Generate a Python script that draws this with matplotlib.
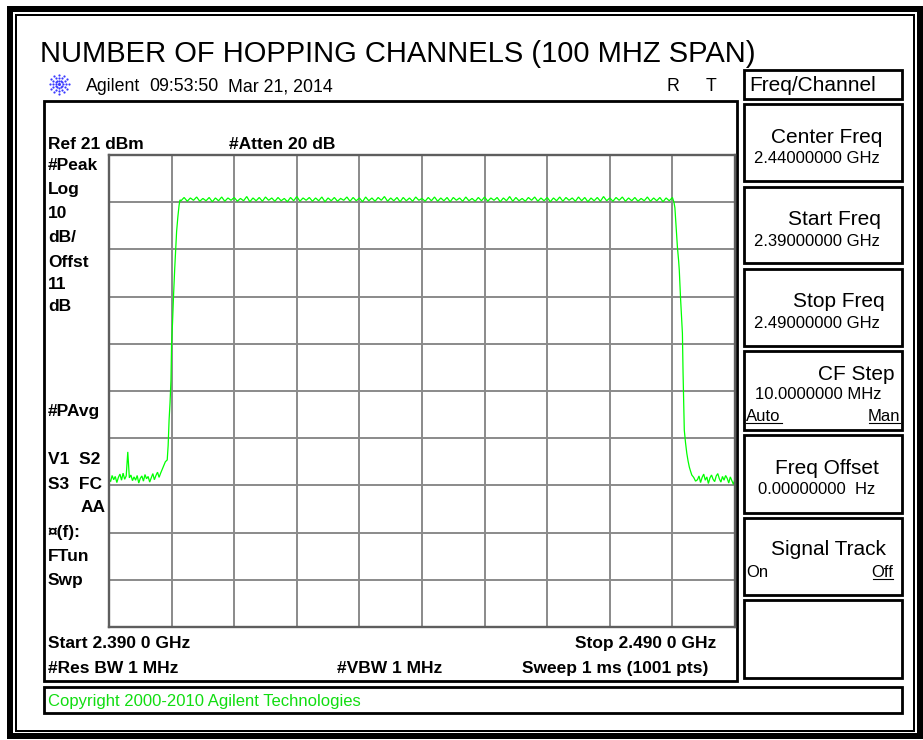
import numpy as np
import matplotlib
matplotlib.use('Agg')
import matplotlib.pyplot as plt
from matplotlib.patches import Rectangle

plt.rcParams['font.family'] = ['Liberation Sans', 'DejaVu Sans']

#=================== trace data (MHz, dBm) ===================
ref_level = 21
db_per_div = 10
start_mhz = 2390.0
stop_mhz = 2490.0

noise_left_f = np.arange(2390.0, 2398.51, 0.25)
noise_left_db = [-47.6, -48.2, -46.9, -47.8, -47.1, -48.4, -47.3, -46.6, -47.9, -46.4,
                 -47.7, -47.0, -41.9, -47.4, -46.8, -48.0, -47.2, -47.9, -46.9, -48.5,
                 -47.5, -47.0, -48.1, -46.7, -47.6, -47.1, -48.3, -47.4, -46.5, -47.8,
                 -46.9, -46.2, -47.3, -46.4, -45.6]

rise_f = [2398.75, 2399.0, 2399.3, 2399.45, 2399.6, 2399.75, 2399.9, 2400.0,
          2400.15, 2400.3, 2400.5, 2400.65, 2400.8, 2401.0, 2401.2, 2401.35]
rise_db = [-44.8, -44.0, -43.6, -40.5, -35.1, -31.5, -26.7, -18.8,
           -14.5, -9.1, -3.0, 0.9, 4.8, 7.9, 10.4, 11.5]

plateau_f = np.arange(2401.5, 2480.01, 0.5)
plateau_db = [11.3, 12.0, 11.2, 11.9, 11.4, 12.1, 11.2, 11.8, 11.3, 12.0,
              11.1, 11.9, 11.3, 12.1, 11.2, 11.9, 11.4, 12.0, 11.2, 11.8,
              11.3, 12.2, 11.1, 11.9, 11.3, 12.0, 11.2, 12.1, 11.4, 11.9,
              11.2, 12.0, 11.3, 11.8, 11.1, 12.0, 11.3, 12.2, 11.2, 11.9,
              11.4, 12.0, 11.2, 11.9, 11.3, 12.1, 11.1, 11.9, 11.3, 12.0,
              11.2, 11.8, 11.4, 12.1, 11.2, 12.0, 11.3, 11.9, 11.1, 12.1,
              11.3, 11.9, 11.2, 12.0, 11.4, 12.2, 11.2, 11.9, 11.3, 12.0,
              11.1, 12.0, 11.3, 11.9, 11.2, 12.1, 11.4, 11.8, 11.2, 12.0,
              11.3, 12.1, 11.2, 11.9, 11.3, 12.0, 11.1, 12.0, 11.4, 11.9,
              11.2, 12.1, 11.3, 11.8, 11.2, 12.0, 11.3, 12.1, 11.2, 11.9,
              11.4, 12.0, 11.1, 11.9, 11.3, 12.2, 11.2, 12.0, 11.3, 11.8,
              11.2, 12.0, 11.4, 12.1, 11.2, 11.9, 11.3, 12.0, 11.1, 11.9,
              11.3, 12.1, 11.2, 12.0, 11.4, 11.9, 11.2, 12.1, 11.3, 12.0,
              11.1, 11.9, 11.3, 12.0, 11.2, 12.2, 11.3, 11.9, 11.2, 12.0,
              11.4, 12.1, 11.2, 11.9, 11.3, 12.0, 11.2, 11.8, 11.3, 12.1,
              11.2, 11.9, 11.3, 12.0, 11.1, 11.9, 11.3, 12.0]

fall_f = [2480.25, 2480.4, 2480.6, 2480.8, 2481.0, 2481.1, 2481.3, 2481.45, 2481.6, 2481.7,
          2481.8, 2481.9, 2482.1, 2482.3, 2482.5, 2482.7, 2482.9, 2483.1, 2483.4, 2483.7]
fall_db = [11.0, 9.8, 5.5, 1.5, -1.5, -3.4, -9.3, -13.0, -16.8, -25.0,
           -31.0, -37.3, -40.0, -42.2, -43.8, -45.1, -46.0, -46.8, -47.3, -48.1]

noise_right_f = np.arange(2484.0, 2490.01, 0.25)
noise_right_db = [-47.8, -47.0, -48.4, -47.3, -46.6, -47.9, -47.2, -48.6, -47.4, -46.8,
                  -47.7, -48.2, -47.0, -46.5, -47.6, -48.3, -47.1, -47.9, -46.9, -47.5,
                  -48.5, -47.2, -48.0, -48.8, -47.6]

freq = np.concatenate([noise_left_f, rise_f, plateau_f, fall_f, noise_right_f])
level = np.concatenate([noise_left_db, rise_db, plateau_db, fall_db, noise_right_db])

# softkey panel text
softkeys = [('Center Freq', '2.44000000 GHz'),
            ('Start Freq', '2.39000000 GHz'),
            ('Stop Freq', '2.49000000 GHz'),
            ('CF Step', '10.0000000 MHz'),
            ('Freq Offset', '0.00000000  Hz'),
            ('Signal Track', ''),
            ('', '')]
left_labels = ['#Peak', 'Log', '10', 'dB/', 'Offst', '11', 'dB',
               '#PAvg', 'V1  S2', 'S3  FC', 'AA', '\u00a4(f):', 'FTun', 'Swp']

#=================== figure ===================
W, H = 923, 740
fig = plt.figure(figsize=(W / 100, H / 100), dpi=100)
fig.patch.set_facecolor('white')

# overlay axes in pixel coordinates for frames and annotations
ov = fig.add_axes([0, 0, 1, 1], zorder=0)
ov.set_xlim(0, W)
ov.set_ylim(H, 0)
ov.axis('off')


def px(v):
    return v * 0.72  # pixels -> points at 100 dpi


def box(x0, y0, x1, y1, lw=2.8, color='black'):
    ov.add_patch(Rectangle((x0, y0), x1 - x0, y1 - y0, fill=False,
                           edgecolor=color, linewidth=px(lw)))


# outer double frame
box(10, 9, 920, 736, lw=6)
box(16, 15, 914, 731, lw=2)

# title and header
ov.text(40, 62, 'NUMBER OF HOPPING CHANNELS (100 MHZ SPAN)', fontsize=21, va='baseline')
ov.text(86, 91, 'Agilent', fontsize=12.8, va='baseline')
ov.text(149, 91, '09:53:50', fontsize=12.8, va='baseline')
ov.text(228, 91, 'Mar 21, 2014', fontsize=12.8, va='baseline')
ov.text(667, 91, 'R', fontsize=12.8, va='baseline')
ov.text(706, 91, 'T', fontsize=12.8, va='baseline')

# agilent spark logo
for ang in np.arange(0, 360, 30):
    for r in (3.5, 6.5, 9.5):
        ov.plot(59 + r * np.cos(np.radians(ang)), 84 + r * np.sin(np.radians(ang)),
                'o', color='#3a3aff', markersize=1.6, markeredgewidth=0)
ov.plot(59, 84, 'o', color='#3a3aff', markersize=2.2, markeredgewidth=0)

# instrument display box and copyright bar
box(44, 101, 737, 681)
box(44, 687, 902, 713)
ov.text(48, 706, 'Copyright 2000-2010 Agilent Technologies', fontsize=12, color='#11dd11',
        va='baseline')

bold = dict(fontsize=12.5, fontweight='bold', va='baseline')
ov.text(48, 149, 'Ref 21 dBm', **bold)
ov.text(229, 149, '#Atten 20 dB', **bold)
label_y = [170, 194, 218, 242, 267, 289, 311, 416, 464, 489, 512, 537, 561, 585]
for lab, yy in zip(left_labels, label_y):
    if lab == 'AA':
        ov.text(106, yy, lab, ha='right', **bold)
    else:
        ov.text(48, yy, lab, **bold)
ov.text(48, 648, 'Start 2.390 0 GHz', **bold)
ov.text(716, 648, 'Stop 2.490 0 GHz', ha='right', **bold)
ov.text(48, 673, '#Res BW 1 MHz', **bold)
ov.text(337, 673, '#VBW 1 MHz', **bold)
ov.text(708, 673, 'Sweep 1 ms (1001 pts)', ha='right', **bold)

# softkey panel
box(744, 70, 902, 99)
ov.text(749, 91, 'Freq/Channel', fontsize=15, va='baseline')
key_top = [104, 187, 269, 351, 435, 518, 600]
key_bot = [181, 263, 346, 430, 513, 595, 678]
key_right = [882, 881, 885, 895, 879, 886, 880]
key_val_x = [754, 754, 754, 755, 758, 754, 754]
key_base = [(143, 163), (225, 246), (307, 328), (380, 399), (474, 494), (555, 0), (0, 0)]
for i, (name, val) in enumerate(softkeys):
    box(744, key_top[i], 902, key_bot[i])
    if name:
        ov.text(key_right[i], key_base[i][0], name, fontsize=15, ha='right', va='baseline')
    if val:
        ov.text(key_val_x[i], key_base[i][1], val, fontsize=12, va='baseline')

ov.text(746, 421, 'Auto', fontsize=12, va='baseline')
ov.text(900, 421, 'Man', fontsize=12, ha='right', va='baseline')
ov.plot([746, 782], [423, 423], color='black', lw=0.8)
ov.plot([869, 900], [423, 423], color='black', lw=0.8)
ov.text(746, 577, 'On', fontsize=12, va='baseline')
ov.text(893, 577, 'Off', fontsize=12, ha='right', va='baseline')
ov.plot([873, 893], [579, 579], color='black', lw=0.8)

#=================== spectrum graticule and trace ===================
gx0, gy0, gx1, gy1 = 109, 155, 735, 627
ax = fig.add_axes([gx0 / W, 1 - gy1 / H, (gx1 - gx0) / W, (gy1 - gy0) / H], zorder=2)
ax.set_facecolor('white')
ax.set_xlim(start_mhz, stop_mhz)
ax.set_ylim(ref_level - 10 * db_per_div, ref_level)
ax.set_xticks(np.linspace(start_mhz, stop_mhz, 11))
ax.set_yticks(np.linspace(ref_level - 10 * db_per_div, ref_level, 11))
ax.tick_params(length=0, labelbottom=False, labelleft=False)
ax.grid(True, color='#8a8a8a', linewidth=1.4)
for sp in ax.spines.values():
    sp.set_color('#5e5e5e')
    sp.set_linewidth(1.7)

ax.plot(freq, level, color='#00ff00', linewidth=0.9, solid_joinstyle='miter')

fig.savefig('out.png', dpi=100, facecolor='white')
